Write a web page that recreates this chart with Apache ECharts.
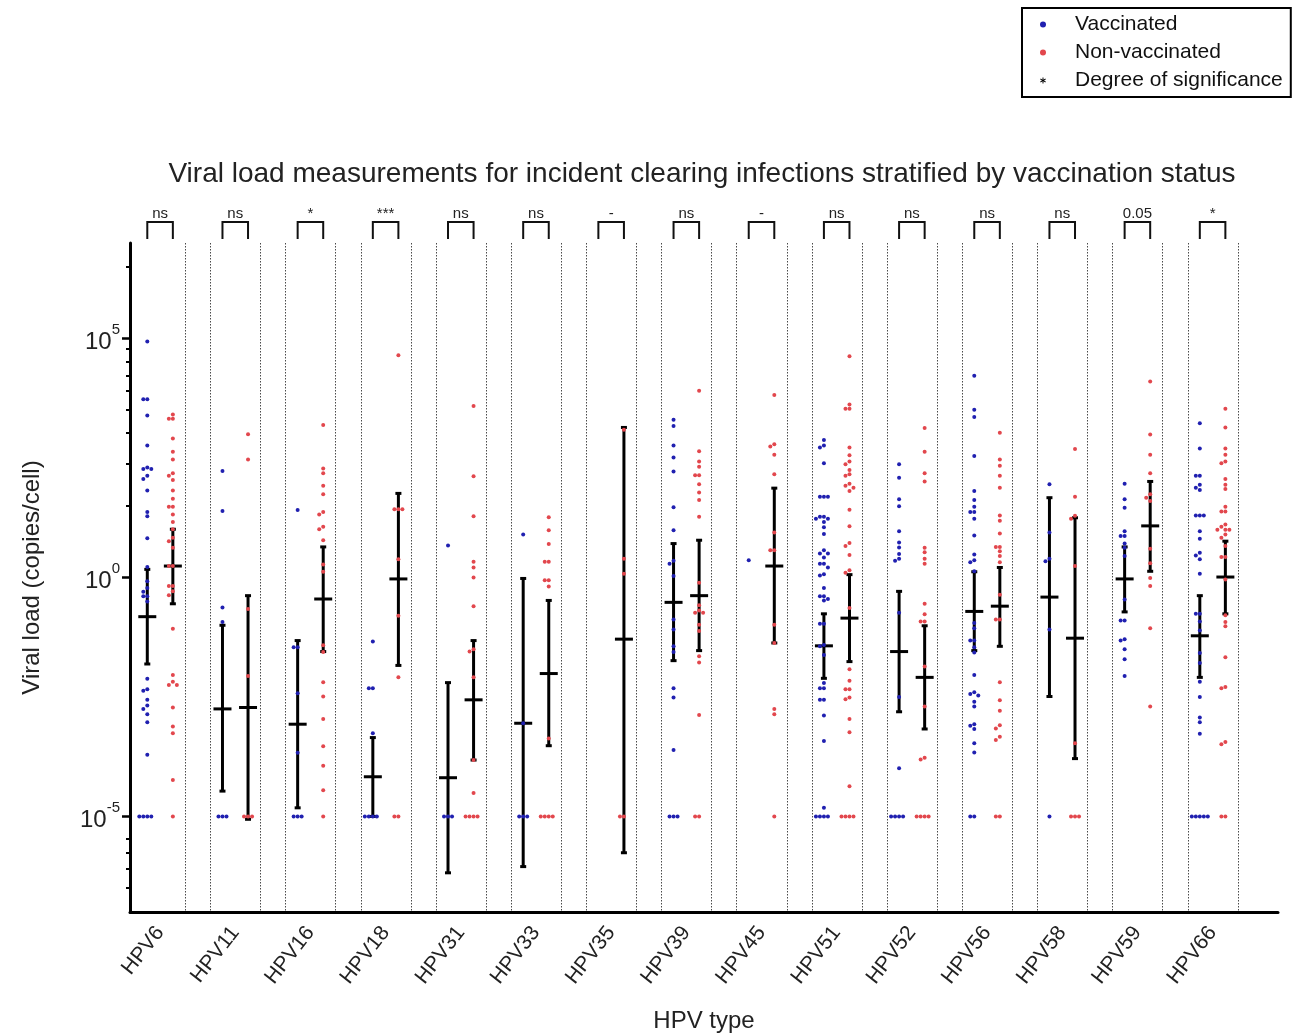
<!DOCTYPE html>
<html>
<head>
<meta charset="utf-8">
<script src="https://cdn.jsdelivr.net/npm/echarts@6/dist/echarts.min.js"></script>
<style>
html,body{margin:0;padding:0;background:#ffffff;}
#chart{width:1295px;height:1034px;}
</style>
</head>
<body>
<div id="chart"></div>
<script>
// ---------------- DATA ----------------
const hpvTypes = ['HPV6','HPV11','HPV16','HPV18','HPV31','HPV33','HPV35','HPV39','HPV45','HPV51','HPV52','HPV56','HPV58','HPV59','HPV66'];
const sigLabels = ['ns','ns','*','***','ns','ns','-','ns','-','ns','ns','ns','ns','0.05','*'];

// individual viral loads, stored as log10(copies/cell); 1e-5 = floor value
const vaccinatedLog10 = [
  [4.94,3.73,3.73,3.39,2.76,2.3,2.27,2.27,2.13,2.06,1.82,1.37,1.28,0.82,0.22,-0.08,-0.22,-0.3,-0.39,-0.39,-0.5,-2.12,-2.34,-2.37,-2.56,-2.68,-2.75,-2.86,-3.03,-3.71,-5,-5,-5,-5],
  [2.23,1.39,-0.63,-0.93,-5,-5,-5],
  [1.41,-1.46,-1.46,-2.42,-3.67,-5,-5,-5],
  [-1.34,-2.32,-2.32,-3.26,-5,-5,-5,-5],
  [0.67,-5,-5,-5],
  [0.9,-3.05,-5,-5,-5],
  [],
  [3.3,3.17,2.76,2.51,2.22,1.47,0.99,0.35,0.29,0.03,-0.88,-1.09,-1.44,-1.56,-2.32,-2.51,-3.61,-5,-5,-5],
  [0.36],
  [2.88,2.76,2.72,2.39,1.69,1.69,1.69,1.27,1.27,1.23,1.23,1.16,1.05,0.91,0.57,0.5,0.5,0.42,0.29,0.29,0.21,0.07,0.04,-0.22,-0.39,-0.39,-0.45,-0.48,-0.97,-0.97,-1.41,-1.44,-1.62,-2.21,-2.32,-2.32,-2.56,-2.56,-2.89,-3.42,-4.82,-5,-5,-5,-5],
  [2.37,2.09,1.64,1.49,0.97,0.73,0.63,0.49,0.39,0.35,-0.74,-2.5,-3.99,-5,-5,-5,-5],
  [4.22,3.51,3.36,2.54,1.81,1.62,1.48,1.37,1.37,1.23,0.88,0.48,0.36,0.32,0.13,-0.95,-1.06,-1.32,-1.32,-1.46,-1.57,-2.04,-2.4,-2.44,-2.47,-2.6,-2.7,-3.07,-3.1,-3.17,-3.47,-3.66,-5,-5],
  [1.95,0.94,0.39,0.34,-1.09,-5],
  [1.96,1.64,1.46,0.97,0.87,0.87,0.71,0.62,0.45,-0.46,-0.9,-0.9,-1.29,-1.32,-1.5,-1.71,-2.06],
  [3.23,2.7,2.13,2.13,1.94,1.88,1.83,1.3,1.3,1.3,0.97,0.81,0.52,0.46,0.38,0.08,-0.76,-0.76,-0.92,-1.11,-1.58,-1.79,-2.18,-2.5,-2.93,-3.03,-3.27,-5,-5,-5,-5,-5]
];
const nonVaccinatedLog10 = [
  [3.41,3.32,3.32,2.91,2.63,2.47,2.18,2.13,2.04,1.82,1.65,1.48,1.48,1.32,1.16,1.01,0.83,0.76,0.62,0.24,0.24,-0.18,-0.18,-0.29,-0.37,-1.07,-2.04,-2.18,-2.25,-2.25,-2.72,-3.12,-3.26,-4.24,-5],
  [3.0,2.47,-0.66,-2.06,-5,-5,-5],
  [3.19,2.28,2.18,1.92,1.74,1.37,1.32,1.06,1.01,0.78,0.27,0.12,-1.42,-1.56,-2.19,-2.49,-2.96,-3.53,-3.94,-4.45,-5],
  [4.65,1.43,1.43,1.43,0.38,-0.8,-2.09,-5,-5],
  [3.59,2.12,1.28,0.33,0.21,0.0,-0.6,-1.5,-1.55,-2.09,-3.82,-4.51,-5,-5,-5,-5],
  [1.26,0.99,0.7,0.33,0.33,-0.06,-0.06,-0.19,-3.37,-5,-5,-5,-5],
  [3.09,0.39,0.08,-5,-5],
  [3.91,2.64,2.43,2.32,2.14,2.14,1.95,1.78,1.62,1.27,-0.11,-0.58,-0.69,-0.74,-0.74,-0.99,-1.12,-1.65,-1.78,-2.88,-5,-5],
  [3.82,2.79,2.74,2.57,2.16,0.94,0.57,0.57,-0.99,-1.37,-2.75,-2.86,-5],
  [4.63,3.62,3.53,3.53,2.72,2.56,2.43,2.37,2.25,2.16,2.13,1.96,1.92,1.88,1.81,1.42,1.07,0.72,0.66,0.47,0.15,0.1,-0.64,-1.92,-2.16,-2.34,-2.34,-2.51,-2.55,-2.96,-3.24,-4.37,-5,-5,-5,-5],
  [3.13,2.63,2.18,2.01,0.62,0.53,0.39,0.29,-0.55,-0.77,-0.92,-0.92,-1.86,-2.7,-3.77,-3.81,-5,-5,-5,-5],
  [3.03,2.47,2.34,2.13,1.88,1.3,1.19,0.92,0.64,0.64,0.55,0.45,0.32,-0.36,-0.88,-0.88,-2.19,-2.57,-2.79,-3.09,-3.16,-3.33,-3.4,-5,-5],
  [2.69,1.69,1.29,1.23,0.24,-3.47,-5,-5,-5],
  [4.1,2.99,2.57,2.18,1.74,1.67,1.6,0.6,0.3,-0.01,-0.18,-1.06,-2.7],
  [3.53,3.14,2.7,2.57,2.43,2.39,2.06,1.94,1.85,1.48,1.38,1.38,1.11,1.06,1.0,1.0,1.0,0.9,0.83,0.66,0.43,0.43,-0.04,-0.79,-0.93,-1.02,-1.67,-2.29,-2.32,-3.44,-3.49,-5,-5]
];

// mean and interval bars (log10), null = not shown
const vaccMeanLog10 = [-0.82,-2.75,-3.07,-4.17,-4.19,-3.05,null,-0.52,null,-1.43,-1.55,-0.71,-0.41,-0.03,-1.22];
const vaccHighLog10 = [0.17,-1.0,-1.32,-3.35,-2.2,-0.02,null,0.71,null,-0.76,-0.29,0.12,1.67,0.64,-0.38];
const vaccLowLog10  = [-1.81,-4.47,-4.82,-5.0,-6.18,-6.05,null,-1.74,null,-2.11,-2.81,-1.53,-2.49,-0.72,-2.09];
const nonMeanLog10  = [0.24,-2.72,-0.45,-0.03,-2.56,-2.01,-1.29,-0.38,0.24,-0.85,-2.09,-0.6,-1.27,1.08,0.01];
const nonHighLog10  = [1.01,-0.38,0.64,1.76,-1.32,-0.48,3.14,0.78,1.87,0.06,-1.01,0.21,1.25,2.01,0.76];
const nonLowLog10   = [-0.55,-5.06,-1.55,-1.84,-3.82,-3.52,-5.76,-1.53,-1.37,-1.76,-3.17,-1.44,-3.79,0.13,-0.76];

// y-axis tick positions (log10)
const majorTickExp = [5, 0, -5];
const minorTickExp = [6.51, 4.79, 4.52, 4.22, 3.91, 3.51, 3.03, 2.39, 1.51, -5.46, -5.76, -6.09, -6.49];

// ---------------- LAYOUT / STYLE ----------------
const FONT = '"Liberation Sans", Arial, Helvetica, sans-serif';
const W = 1295, H = 1034;
const GRID = {left: 130, right: 17, top: 243, bottom: 122};
const X_MIN = -0.4, X_MAX = 14.87;
const Y_MIN_EXP = -7, Y_MAX_EXP = 7;
const SUB = 0.17;             // offset of vaccinated / non-vaccinated columns
const HALF_BAND = 0.333;      // dotted separators
const pxPerX = (W - GRID.left - GRID.right) / (X_MAX - X_MIN);
const pxPerDecade = (H - GRID.top - GRID.bottom) / (Y_MAX_EXP - Y_MIN_EXP);
const DOT = 4.0;              // beeswarm spacing in px
const BLUE = '#2020b0', RED = '#e2474d';

const toVal = e => Math.pow(10, e);

// simple beeswarm: horizontal offsets so that dots do not overlap
function swarm(logs) {
  const placed = [];
  return logs.map(L => {
    const y = L * pxPerDecade;
    let off = 0;
    for (let k = 0; k < 60; k++) {
      const cand = k === 0 ? 0 : (k % 2 ? -Math.ceil(k / 2) : Math.ceil(k / 2)) * DOT;
      if (placed.every(p => (p.x - cand) * (p.x - cand) + (p.y - y) * (p.y - y) >= DOT * DOT - 0.01)) { off = cand; break; }
    }
    placed.push({x: off, y});
    return off / pxPerX;
  });
}

function scatterData(groups, shift) {
  const out = [];
  groups.forEach((logs, i) => {
    const offs = swarm(logs);
    logs.forEach((L, j) => out.push([i + shift + offs[j], toVal(L)]));
  });
  return out;
}

function barData(mean, low, high, shift) {
  const out = [];
  mean.forEach((m, i) => {
    if (m == null) return;
    out.push([i + shift, toVal(m), toVal(low[i]), toVal(high[i])]);
  });
  return out;
}

function renderBar(params, api) {
  const x = api.value(0);
  const pm = api.coord([x, api.value(1)]);
  const pl = api.coord([x, api.value(2)]);
  const ph = api.coord([x, api.value(3)]);
  const s = {stroke: '#000', lineWidth: 3};
  return {type: 'group', children: [
    {type: 'line', shape: {x1: pm[0], y1: ph[1], x2: pm[0], y2: pl[1]}, style: s},
    {type: 'line', shape: {x1: pm[0] - 3, y1: ph[1], x2: pm[0] + 3, y2: ph[1]}, style: s},
    {type: 'line', shape: {x1: pm[0] - 3, y1: pl[1], x2: pm[0] + 3, y2: pl[1]}, style: s},
    {type: 'line', shape: {x1: pm[0] - 9, y1: pm[1], x2: pm[0] + 9, y2: pm[1]}, style: s}
  ]};
}

function renderSeparators(params, api) {
  const i = api.value(0);
  const top = api.coord([i, toVal(Y_MAX_EXP)])[1];
  const bottom = api.coord([i, toVal(Y_MIN_EXP)])[1];
  const children = [];
  [-HALF_BAND, HALF_BAND].forEach((d, k) => {
    if (i === 0 && k === 0) return;
    const x = Math.round(api.coord([i + d, 1])[0]) + 0.5;
    children.push({type: 'line', shape: {x1: x, y1: top, x2: x, y2: bottom},
      style: {stroke: '#4a4a4a', lineWidth: 1, lineDash: [1.5, 1.5]}});
  });
  return {type: 'group', children};
}

function renderSig(params, api) {
  const i = api.value(0);
  const top = api.coord([i, toVal(Y_MAX_EXP)])[1];
  const x1 = api.coord([i - SUB, 1])[0];
  const x2 = api.coord([i + SUB, 1])[0];
  const yb = top - 21, yl = top - 4;
  return {type: 'group', children: [
    {type: 'polyline', shape: {points: [[x1, yl], [x1, yb], [x2, yb], [x2, yl]]},
      style: {stroke: '#111', lineWidth: 2, fill: null}},
    {type: 'text', style: {text: sigLabels[params.dataIndex], x: (x1 + x2) / 2, y: yb - 1,
      align: 'center', verticalAlign: 'bottom', fontSize: 15, fontFamily: FONT, fill: '#222'}}
  ]};
}

const starIcon = 'path://M4.2,0 H5.8 V3.6 L8.9,1.8 L9.7,3.2 L6.6,5 L9.7,6.8 L8.9,8.2 L5.8,6.4 V10 H4.2 V6.4 L1.1,8.2 L0.3,6.8 L3.4,5 L0.3,3.2 L1.1,1.8 L4.2,3.6 Z';

const catIdx = hpvTypes.map((_, i) => i);

const chart = echarts.init(document.getElementById('chart'), null, {renderer: 'canvas', width: W, height: H});
chart.setOption({
  animation: false,
  backgroundColor: '#ffffff',
  textStyle: {fontFamily: FONT},
  title: {
    text: 'Viral load measurements for incident clearing infections stratified by vaccination status',
    left: 702, top: 160, textAlign: 'center', padding: 0,
    textStyle: {fontSize: 28, fontWeight: 'normal', color: '#222', fontFamily: FONT}
  },
  legend: {
    orient: 'vertical', left: 1022, top: 8,
    padding: [6, 8, 6, 18], itemGap: 7, itemWidth: 6, itemHeight: 6,
    borderColor: '#000', borderWidth: 2, selectedMode: false,
    textStyle: {fontSize: 21, color: '#111', fontFamily: FONT, padding: [0, 0, 0, 24]},
    data: [
      {name: 'Vaccinated', icon: 'circle'},
      {name: 'Non-vaccinated', icon: 'circle'},
      {name: 'Degree of significance', icon: starIcon}
    ]
  },
  grid: {left: GRID.left, right: GRID.right, top: GRID.top, bottom: GRID.bottom,
    containLabel: false, outerBoundsMode: 'none'},
  xAxis: {
    type: 'value', min: X_MIN, max: X_MAX,
    axisLine: {onZero: false, lineStyle: {color: '#000', width: 3}},
    axisTick: {show: false},
    splitLine: {show: false},
    axisLabel: {customValues: catIdx, formatter: v => hpvTypes[Math.round(v)] || '',
      rotate: 52, fontSize: 21, color: '#222', margin: 17, fontFamily: FONT},
    name: 'HPV type', nameLocation: 'middle', nameGap: 97,
    nameTextStyle: {fontSize: 24, color: '#222', fontFamily: FONT}
  },
  yAxis: [
    {
      type: 'log', logBase: 10, min: toVal(Y_MIN_EXP), max: toVal(Y_MAX_EXP),
      axisLine: {show: true, onZero: false, lineStyle: {color: '#000', width: 3}},
      axisTick: {show: false}, axisLabel: {show: false}, splitLine: {show: false},
      minorTick: {show: false},
      name: 'Viral load (copies/cell)', nameLocation: 'middle', nameGap: 86,
      nameTextStyle: {fontSize: 24, color: '#222', fontFamily: FONT}
    },
    {
      type: 'value', min: Y_MIN_EXP, max: Y_MAX_EXP, position: 'left',
      axisLine: {show: false, onZero: false},
      axisTick: {show: true, customValues: majorTickExp, length: 8, lineStyle: {color: '#000', width: 2.5}},
      axisLabel: {
        customValues: majorTickExp, margin: 10,
        formatter: v => '{b|10}{s|' + v + '}',
        rich: {
          b: {fontSize: 24, color: '#222', lineHeight: 32, verticalAlign: 'bottom', fontFamily: FONT},
          s: {fontSize: 15, color: '#222', lineHeight: 15, verticalAlign: 'top', fontFamily: FONT}
        }
      },
      splitLine: {show: false}
    },
    {
      type: 'value', min: Y_MIN_EXP, max: Y_MAX_EXP, position: 'left',
      axisLine: {show: false, onZero: false},
      axisTick: {show: true, customValues: minorTickExp, length: 4, lineStyle: {color: '#000', width: 2}},
      axisLabel: {show: false},
      splitLine: {show: false}
    }
  ],
  series: [
    {
      name: 'separators', type: 'custom', silent: true, z: 1,
      data: catIdx.map(i => [i, 1]), renderItem: renderSeparators, encode: {x: 0, y: 1}
    },
    {
      name: 'Vaccinated mean', type: 'custom', z: 3,
      data: barData(vaccMeanLog10, vaccLowLog10, vaccHighLog10, -SUB),
      renderItem: renderBar, encode: {x: 0, y: [1, 2, 3]}, itemStyle: {color: '#000'}
    },
    {
      name: 'Non-vaccinated mean', type: 'custom', z: 3,
      data: barData(nonMeanLog10, nonLowLog10, nonHighLog10, SUB),
      renderItem: renderBar, encode: {x: 0, y: [1, 2, 3]}, itemStyle: {color: '#000'}
    },
    {
      name: 'Vaccinated', type: 'scatter', z: 4, symbol: 'circle', symbolSize: 4,
      itemStyle: {color: BLUE, opacity: 1},
      data: scatterData(vaccinatedLog10, -SUB)
    },
    {
      name: 'Non-vaccinated', type: 'scatter', z: 4, symbol: 'circle', symbolSize: 4,
      itemStyle: {color: RED, opacity: 1},
      data: scatterData(nonVaccinatedLog10, SUB)
    },
    {
      name: 'Degree of significance', type: 'custom', z: 5, silent: true,
      itemStyle: {color: '#000'},
      data: catIdx.map(i => [i, 1]), renderItem: renderSig, encode: {x: 0, y: 1}
    }
  ]
});
</script>
</body>
</html>
